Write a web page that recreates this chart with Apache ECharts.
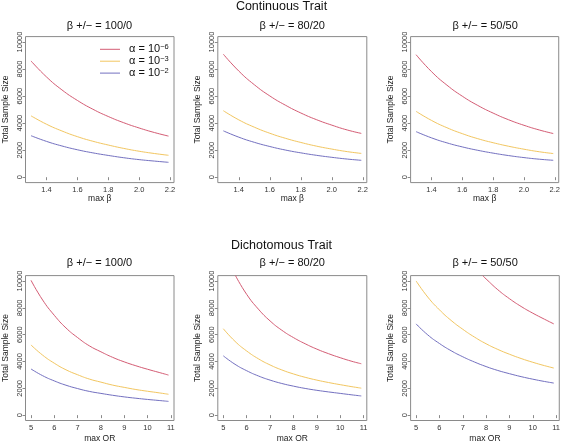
<!DOCTYPE html>
<html><head><meta charset="utf-8">
<script src="https://cdn.jsdelivr.net/npm/echarts@6/dist/echarts.min.js"></script>
<style>html,body{margin:0;padding:0;background:#fff}#c{width:563px;height:444px}</style>
</head><body><div id="c"></div>
<script>
// ---- data ----
const contX = [1.3, 1.4, 1.5, 1.6, 1.7, 1.8, 1.9, 2.0, 2.1, 2.19];
const cont100_red = [8600, 7420, 6460, 5680, 5030, 4490, 4030, 3640, 3300, 3040];
const cont100_orange = [4540, 3920, 3420, 3000, 2660, 2380, 2130, 1920, 1750, 1620];
const cont100_blue = [3070, 2650, 2310, 2030, 1800, 1610, 1440, 1300, 1190, 1100];
const cont80_red = [9100, 7850, 6840, 6010, 5330, 4750, 4260, 3850, 3490, 3240];
const cont80_orange = [4920, 4240, 3700, 3250, 2880, 2570, 2300, 2080, 1890, 1760];
const cont80_blue = [3430, 2960, 2580, 2270, 2010, 1800, 1620, 1470, 1340, 1250];
const cont50_red = [9060, 7810, 6810, 5990, 5310, 4740, 4250, 3840, 3490, 3230];
const cont50_orange = [4870, 4200, 3660, 3220, 2850, 2550, 2290, 2070, 1880, 1750];
const cont50_blue = [3370, 2910, 2540, 2240, 1990, 1780, 1600, 1450, 1330, 1250];

const dichX = [5, 5.5, 6, 6.5, 7, 7.5, 8, 8.5, 9, 9.5, 10, 10.5, 10.9];
const dich100_red = [10050, 8580, 7440, 6500, 5780, 5170, 4720, 4310, 3970, 3680, 3420, 3180, 2985];
const dich100_orange = [5230, 4470, 3870, 3380, 3010, 2690, 2460, 2240, 2070, 1910, 1780, 1660, 1555];
const dich100_blue = [3440, 2940, 2550, 2230, 1980, 1770, 1620, 1480, 1360, 1260, 1170, 1090, 1025];
const dich80_redX = [5.52, 6, 6.5, 7, 7.5, 8, 8.5, 9, 9.5, 10, 10.5, 10.9];
const dich80_red = [10400, 9000, 7900, 7020, 6330, 5780, 5320, 4920, 4580, 4280, 4010, 3830];
const dich80_orange = [6440, 5500, 4780, 4200, 3740, 3370, 3070, 2820, 2610, 2430, 2270, 2120, 2010];
const dich80_blue = [4420, 3790, 3310, 2920, 2610, 2360, 2160, 1990, 1850, 1730, 1620, 1510, 1430];
const dich50_redX = [7.85, 8, 8.5, 9, 9.5, 10, 10.5, 10.9];
const dich50_red = [10400, 10150, 9350, 8680, 8100, 7600, 7150, 6800];
const dich50_orange = [10000, 8800, 7850, 7060, 6400, 5820, 5320, 4900, 4540, 4220, 3940, 3690, 3510];
const dich50_blue = [6800, 5980, 5340, 4800, 4350, 3960, 3620, 3330, 3090, 2870, 2680, 2510, 2390];

const contXTicks = [1.4, 1.6, 1.8, 2.0, 2.2];
const dichXTicks = [5, 6, 7, 8, 9, 10, 11];
const yTicks = [0, 2000, 4000, 6000, 8000, 10000];
const panelTitles = ['β +/− = 100/0', 'β +/− = 80/20', 'β +/− = 50/50'];
const rowTitles = ['Continuous Trait', 'Dichotomous Trait'];
const legendNames = ['a6', 'a3', 'a2'];
const legendExp = ['−6', '−3', '−2'];

// ---- layout / style ----
const FONT = 'Liberation Sans, Arial, Helvetica, sans-serif';
const COLORS = {a6: '#d45c74', a3: '#f2c660', a2: '#7370c0'};
const colLeft = [25, 217.8, 410.6];
const rowTop = [36.6, 275.6];
const boxW = 149, boxH = [146, 146.5];

const grids = [], xAxes = [], yAxes = [], series = [], titles = [];
const panels = [
  [[contX, cont100_red], [contX, cont100_orange], [contX, cont100_blue]],
  [[contX, cont80_red], [contX, cont80_orange], [contX, cont80_blue]],
  [[contX, cont50_red], [contX, cont50_orange], [contX, cont50_blue]],
  [[dichX, dich100_red], [dichX, dich100_orange], [dichX, dich100_blue]],
  [[dich80_redX, dich80_red], [dichX, dich80_orange], [dichX, dich80_blue]],
  [[dich50_redX, dich50_red], [dichX, dich50_orange], [dichX, dich50_blue]]
];

for (let p = 0; p < 6; p++) {
  const r = Math.floor(p / 3), c = p % 3;
  grids.push({left: colLeft[c], top: rowTop[r], width: boxW, height: boxH[r],
    show: true, borderColor: '#8a8a8a', borderWidth: 1, backgroundColor: 'transparent'});
  const isCont = r === 0;
  const ticks = isCont ? contXTicks : dichXTicks;
  xAxes.push({type: 'value', gridIndex: p,
    min: isCont ? 1.2644 : 4.764, max: isCont ? 2.2256 : 11.136,
    name: isCont ? 'max β' : 'max OR', nameLocation: 'middle', nameGap: isCont ? 11.5 : 13.5,
    nameMoveOverlap: false,
    nameTextStyle: {fontFamily: FONT, fontSize: 8.5, color: '#222'},
    axisLine: {show: false}, splitLine: {show: false},
    axisTick: {show: true, length: 3, lineStyle: {color: '#8a8a8a'}, customValues: ticks},
    axisLabel: {show: true, margin: 3.5, fontFamily: FONT, fontSize: 7.5, color: '#333',
      customValues: ticks, formatter: v => isCont ? Number(v).toFixed(1) : String(v)}
  });
  yAxes.push({type: 'value', gridIndex: p, min: -400, max: 10400,
    name: 'Total Sample Size', nameLocation: 'middle', nameGap: 15.5, nameMoveOverlap: false,
    nameTextStyle: {fontFamily: FONT, fontSize: 8.5, color: '#222'},
    axisLine: {show: false}, splitLine: {show: false},
    axisTick: {show: true, length: 3, lineStyle: {color: '#8a8a8a'}, customValues: yTicks},
    axisLabel: {show: true, rotate: 90, margin: 2, fontFamily: FONT, fontSize: 7.5, color: '#333',
      customValues: yTicks, formatter: v => String(Math.round(v))}
  });
  panels[p].forEach((pair, k) => {
    const nm = legendNames[k];
    series.push({type: 'line', name: nm, xAxisIndex: p, yAxisIndex: p,
      data: pair[0].map((x, i) => [x, pair[1][i]]),
      showSymbol: false, smooth: true, clip: true, silent: true,
      lineStyle: {width: 1, color: COLORS[nm]}, itemStyle: {color: COLORS[nm]}});
  });
  titles.push({text: panelTitles[c], left: colLeft[c] + boxW / 2, textAlign: 'center',
    top: r === 0 ? 20 : 257.5, padding: 0,
    textStyle: {fontFamily: FONT, fontSize: 11, fontWeight: 'normal', color: '#111'}});
}
titles.push({text: rowTitles[0], left: 'center', top: 0.5, padding: 0,
  textStyle: {fontFamily: FONT, fontSize: 12.5, fontWeight: 'normal', color: '#111'}});
titles.push({text: rowTitles[1], left: 'center', top: 239.5, padding: 0,
  textStyle: {fontFamily: FONT, fontSize: 12.5, fontWeight: 'normal', color: '#111'}});

const option = {
  animation: false,
  backgroundColor: '#fff',
  title: titles,
  legend: {
    data: legendNames, left: 100, top: 43.3, orient: 'vertical', padding: 0,
    itemGap: 0.4, itemWidth: 20, itemHeight: 1, icon: 'rect', selectedMode: false,
    formatter: n => '{a|α = 10}{s|' + legendExp[legendNames.indexOf(n)] + '}',
    textStyle: {rich: {
      a: {fontFamily: FONT, fontSize: 11, lineHeight: 12, color: '#111', padding: [0, 0, 0, 4]},
      s: {fontFamily: FONT, fontSize: 7.5, lineHeight: 4, verticalAlign: 'top', color: '#111'}
    }}
  },
  grid: grids, xAxis: xAxes, yAxis: yAxes, series: series
};
const chart = echarts.init(document.getElementById('c'), null, {renderer: 'canvas'});
chart.setOption(option);
</script></body></html>
